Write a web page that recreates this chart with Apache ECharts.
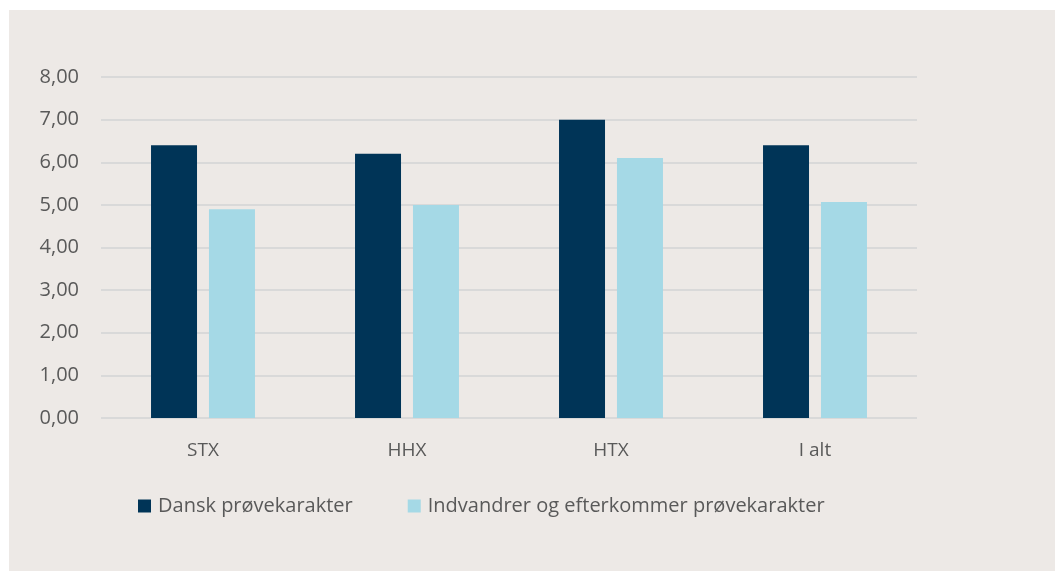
<!DOCTYPE html>
<html>
<head>
<meta charset="utf-8">
<script src="https://cdn.jsdelivr.net/npm/echarts@6/dist/echarts.min.js"></script>
<style>
    html, body { margin: 0; padding: 0; background: #ffffff; }
    #chart { position: absolute; left: 9px; top: 10px; width: 1046px; height: 561px; }
</style>
</head>
<body>
<div id="chart"></div>
<script>
    const categories = ['STX', 'HHX', 'HTX', 'I alt'];
    const danskValues = [6.4, 6.2, 7.0, 6.4];
    const indvandrerValues = [4.9, 5.0, 6.1, 5.07];
    const seriesNames = ['Dansk prøvekarakter', 'Indvandrer og efterkommer prøvekarakter'];

    const font = '"Open Sans", "Noto Sans", sans-serif';

    var option = {
        backgroundColor: '#EDE9E6',
        textStyle: { fontFamily: font },
        legend: {
            left: 124,
            top: 481,
            itemWidth: 13,
            itemHeight: 13,
            itemGap: 55,
            icon: 'rect',
            textStyle: { color: '#595959', fontSize: 20, fontFamily: font, padding: [0, 0, 0, 2] },
            data: seriesNames
        },
        grid: {
            left: 92,
            right: 138,
            top: 67,
            bottom: 153
        },
        xAxis: {
            type: 'category',
            data: categories,
            axisLine: { show: false },
            axisTick: { show: false },
            axisLabel: { color: '#595959', fontSize: 19, margin: 23, fontFamily: font }
        },
        yAxis: {
            type: 'value',
            min: 0,
            max: 8,
            interval: 1,
            axisLine: { show: false },
            axisTick: { show: false },
            splitLine: { lineStyle: { color: '#D9D9D9', width: 2 } },
            axisLabel: {
                color: '#595959',
                fontSize: 20,
                margin: 22,
                fontFamily: font,
                formatter: function (v) { return v.toFixed(2).replace('.', ','); }
            }
        },
        series: [
            {
                name: seriesNames[0],
                type: 'bar',
                data: danskValues,
                barWidth: 46,
                barGap: '26%',
                itemStyle: { color: '#003457' }
            },
            {
                name: seriesNames[1],
                type: 'bar',
                data: indvandrerValues,
                barWidth: 46,
                itemStyle: { color: '#A5D9E6' }
            }
        ]
    };

    var myChart = echarts.init(document.getElementById('chart'));
    myChart.setOption(option);
</script>
</body>
</html>
